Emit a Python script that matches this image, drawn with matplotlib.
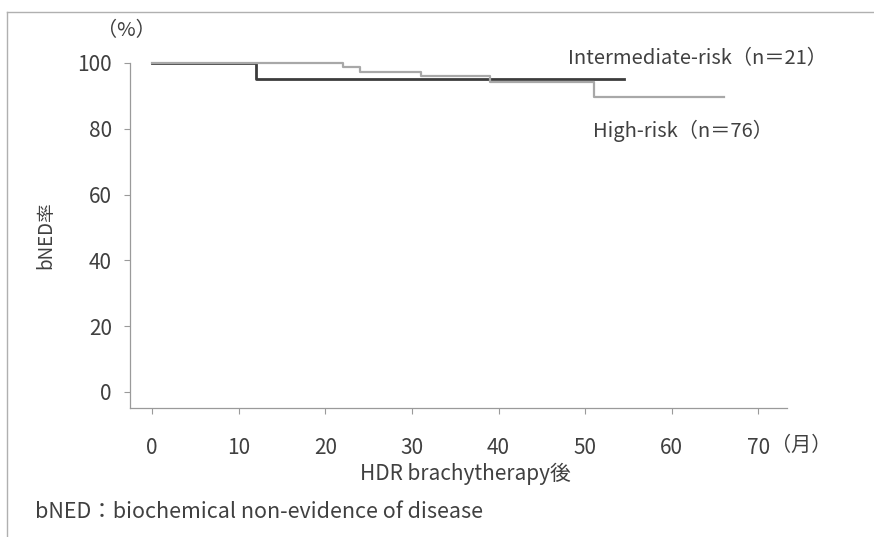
import matplotlib
matplotlib.use("Agg")
import matplotlib.pyplot as plt
from matplotlib.lines import Line2D

plt.rcParams['font.family'] = ['Noto Sans CJK JP', 'DejaVu Sans']

# Kaplan-Meier steps (months, %)
high_months = [0, 22, 24, 31, 39, 51, 66]
high_rate = [100, 98.7, 97.4, 96.1, 94.1, 89.7, 89.7]
inter_months = [0, 12, 54.5]
inter_rate = [100, 95.2, 95.2]

x_ticks = [0, 10, 20, 30, 40, 50, 60, 70]
y_ticks = [0, 20, 40, 60, 80, 100]

W, H = 874, 537
txt = "#404040"
fs = 14.5

fig = plt.figure(figsize=(W / 100, H / 100), dpi=100)
ax = fig.add_axes([130 / W, 1 - 408 / H, (787 - 130) / W, (408 - 63) / H])

ax.step(inter_months, inter_rate, where="post", color="#3c3c3c", lw=2.0,
        clip_on=False, zorder=3)
ax.step(high_months, high_rate, where="post", color="#a8a8a8", lw=1.6,
        clip_on=False, zorder=4)

ax.set_xlim(-2.54, 73.3)
ax.set_ylim(-4.9, 100)
ax.set_xticks(x_ticks)
ax.set_yticks(y_ticks)

for side in ["top", "right"]:
    ax.spines[side].set_visible(False)
for side in ["left", "bottom"]:
    ax.spines[side].set_color("#9a9a9a")
    ax.spines[side].set_linewidth(0.9)

ax.tick_params(axis="both", colors="#9a9a9a", length=4, width=0.8,
               labelcolor=txt, labelsize=15)
ax.tick_params(axis="x", pad=17)
ax.tick_params(axis="y", pad=9)

# axis labels and annotations
ax.set_ylabel("bNED率", fontsize=fs - 1, color=txt, labelpad=15)
ax.text(-3.0, 110, "（%）", fontsize=fs, color=txt, ha="center", va="center",
        clip_on=False)
ax.text(63.0, 101.5, "Intermediate-risk（n＝21）", fontsize=fs, color=txt,
        ha="center", va="center", clip_on=False)
ax.text(61.3, 79.5, "High-risk（n＝76）", fontsize=fs, color=txt,
        ha="center", va="center")

fig.text(771 / W, 1 - 445 / H, "（月）", fontsize=fs, color=txt,
         ha="left", va="center")
fig.text(465 / W, 1 - 474 / H, "HDR brachytherapy後", fontsize=15,
         color=txt, ha="center", va="center")
fig.text(35 / W, 1 - 512 / H, "bNED：biochemical non-evidence of disease",
         fontsize=15.5, color=txt, ha="left", va="center")

# thin frame at top and left of the figure
fig.add_artist(Line2D([7 / W, 1], [1 - 12 / H, 1 - 12 / H],
                      transform=fig.transFigure, color="#b0b0b0", lw=1))
fig.add_artist(Line2D([7 / W, 7 / W], [1 - 12 / H, 0],
                      transform=fig.transFigure, color="#b0b0b0", lw=1))

fig.savefig("out.png", dpi=100, facecolor="white")
